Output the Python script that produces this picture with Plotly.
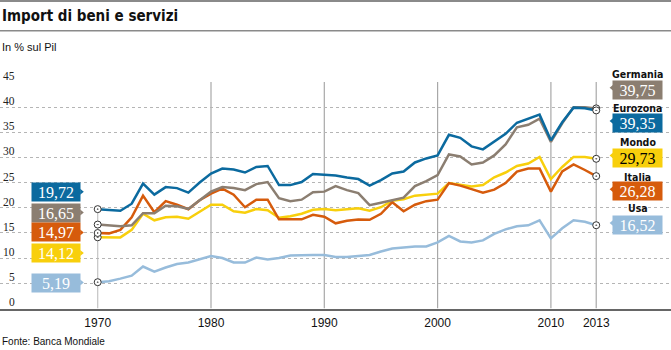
import plotly.graph_objects as go

# ---------------- data ----------------
TICK_POS = [0, 10, 20, 30, 40, 44]
TICK_TEXT = ["1970", "1980", "1990", "2000", "2010", "2013"]
Y_TICKS = [0, 5, 10, 15, 20, 25, 30, 35, 40, 45]

EUROZONA = [19.72, 19.55, 19.4, 20.8, 24.8, 22.6, 24.1, 23.9, 23.0, 25.0,
            26.8, 27.8, 27.6, 27.0, 28.1, 28.3, 24.5, 24.5, 25.1, 26.7,
            26.5, 26.4, 26.0, 25.7, 24.4, 25.5, 26.8, 27.2, 29.0, 29.8,
            30.4, 34.5, 33.9, 32.2, 31.6, 33.1, 34.7, 36.9, 37.7, 38.5,
            33.4, 37.0, 39.9, 39.8, 39.35]
GERMANIA = [16.65, 16.4, 16.3, 16.5, 18.9, 18.9, 20.4, 20.3, 19.75, 21.5,
            23.2, 24.1, 23.9, 23.5, 24.7, 25.1, 21.9, 21.3, 21.6, 23.1,
            23.2, 24.3, 23.5, 22.9, 20.5, 21.0, 21.5, 22.0, 24.3, 25.3,
            26.5, 30.6, 30.2, 28.6, 29.0, 30.4, 32.6, 36.0, 36.5, 37.7,
            33.1, 36.8, 40.0, 40.0, 39.75]
ITALIA = [14.97, 14.9, 15.6, 18.1, 22.4, 19.1, 21.3, 20.6, 19.7, 21.5,
          22.8, 23.8, 22.6, 20.1, 21.6, 21.6, 17.7, 17.7, 17.7, 18.6,
          18.2, 16.9, 17.4, 17.65, 17.6, 18.8, 21.1, 19.3, 20.6, 21.3,
          21.6, 24.9, 24.4, 23.7, 23.0, 23.6, 24.9, 27.2, 27.8, 27.8,
          23.2, 27.2, 28.6, 27.5, 26.28]
MONDO = [14.12, 14.1, 14.1, 15.6, 18.8, 17.5, 18.1, 18.2, 17.8, 19.2,
         20.6, 20.6, 19.3, 19.0, 19.75, 19.5, 18.0, 18.3, 18.8, 19.6,
         19.75, 19.5, 19.75, 19.9, 19.4, 20.1, 21.4, 21.7, 22.4, 22.6,
         22.8, 24.9, 24.5, 24.2, 24.5, 26.05, 27.0, 28.3, 28.8, 30.1,
         25.7, 28.1, 30.1, 30.1, 29.73]
USA = [5.19, 5.4, 5.9, 6.5, 8.3, 7.3, 8.1, 8.8, 9.1, 9.7,
       10.4, 10.0, 9.1, 9.1, 10.1, 9.7, 10.0, 10.5, 10.6, 10.6,
       10.6, 10.2, 10.2, 10.4, 10.6, 11.3, 11.9, 12.1, 12.3, 12.3,
       13.1, 14.4, 13.3, 13.1, 13.5, 14.8, 15.7, 16.3, 16.5, 17.5,
       13.9, 15.9, 17.5, 17.2, 16.52]
POS = list(range(len(EUROZONA)))

NAMES = ["Eurozona", "Germania", "Italia", "Mondo", "Usa"]
SERIES = [EUROZONA, GERMANIA, ITALIA, MONDO, USA]

# ---------------- style ----------------
COLORS = {"Eurozona": "#0b6a9f", "Germania": "#8b7e71", "Italia": "#d65b0c",
          "Mondo": "#f8cf0c", "Usa": "#97bcdb"}
TXT = {"Eurozona": "white", "Germania": "white", "Italia": "white",
       "Mondo": "white", "Usa": "white"}
TXT_R = {"Eurozona": "white", "Germania": "white", "Italia": "white",
         "Mondo": "black", "Usa": "white"}
SANS = "Liberation Sans, Arial, sans-serif"
NARROW = "Liberation Sans Narrow, DejaVu Sans Condensed, Arial Narrow, sans-serif"
SERIF = "Liberation Serif, DejaVu Serif, serif"

W, H = 671, 350
T, B = 82, 41


def px(x):
    return x / W


def py(y):
    return (H - B - y) / (H - T - B)


def fmt(v):
    return f"{v:.2f}".replace(".", ",")


fig = go.Figure()

draw_order = ["Usa", "Mondo", "Italia", "Germania", "Eurozona"]
for name in draw_order:
    vals = SERIES[NAMES.index(name)]
    fig.add_trace(go.Scatter(x=POS, y=vals, mode="lines",
                             line=dict(color=COLORS[name], width=2.5),
                             hoverinfo="skip", showlegend=False))
for name in draw_order:
    vals = SERIES[NAMES.index(name)]
    fig.add_trace(go.Scatter(x=[POS[0], POS[-1]], y=[vals[0], vals[-1]],
                             mode="markers",
                             marker=dict(symbol="circle-dot", size=7, color="white",
                                         line=dict(color="#333", width=1)),
                             hoverinfo="skip", showlegend=False))

shapes = []
# vertical decade lines
for t in TICK_POS[1:]:
    shapes.append(dict(type="line", xref="x", yref="y", x0=t, x1=t, y0=0, y1=Y_TICKS[-1],
                       line=dict(color="#a8a8a8", width=1.2), layer="below"))
shapes.append(dict(type="line", xref="x", yref="y", x0=TICK_POS[0], x1=TICK_POS[0],
                   y0=0, y1=max(s[0] for s in SERIES),
                   line=dict(color="#c4c4c4", width=1.2), layer="below"))
# top rules
shapes.append(dict(type="line", xref="paper", yref="paper", x0=0, x1=1, y0=py(1), y1=py(1),
                   line=dict(color="#8a8a8a", width=2)))
shapes.append(dict(type="line", xref="paper", yref="paper", x0=0, x1=1, y0=py(30.8), y1=py(30.8),
                   line=dict(color="#8a8a8a", width=1.5)))

annotations = []
# y labels
for v in Y_TICKS:
    annotations.append(dict(xref="paper", yref="y", x=px(16.5), y=v, xanchor="right",
                            yanchor="middle", yshift=6, text=str(v), showarrow=False,
                            font=dict(family=SERIF, size=11.5, color="#222")))

# left boxes
LEFT_Y = {"Eurozona": 191.7, "Germania": 212.5, "Italia": 232.5, "Mondo": 253.0, "Usa": 282.5}
for name in NAMES:
    vals = SERIES[NAMES.index(name)]
    cy = LEFT_Y[name]
    annotations.append(dict(xref="paper", yref="paper", x=px(56.3), y=py(cy),
                            xanchor="center", yanchor="middle", text=fmt(vals[0]),
                            showarrow=False, width=48, height=18, borderpad=0,
                            bgcolor=COLORS[name],
                            font=dict(family=SERIF, size=16, color=TXT[name])))
    shapes.append(dict(type="path", xref="paper", yref="paper",
                       path=f"M {px(80.2)} {py(cy-3)} L {px(83.8)} {py(cy)} L {px(80.2)} {py(cy+3)} Z",
                       fillcolor=COLORS[name], line=dict(width=0)))

# right boxes and names
RIGHT = {"Germania": (74.0, 89.8), "Eurozona": (107.7, 123.0), "Mondo": (141.7, 157.5),
         "Italia": (176.7, 191.3), "Usa": (208.3, 225.0)}
for name in NAMES:
    vals = SERIES[NAMES.index(name)]
    ny, by = RIGHT[name]
    annotations.append(dict(xref="paper", yref="paper", x=px(637.5), y=py(ny),
                            xanchor="center", yanchor="middle", text=f"<b>{name}</b>",
                            showarrow=False,
                            font=dict(family=NARROW, size=10.5, color="#111")))
    annotations.append(dict(xref="paper", yref="paper", x=px(637.5), y=py(by),
                            xanchor="center", yanchor="middle", text=fmt(vals[-1]),
                            showarrow=False, width=49, height=18, borderpad=0,
                            bgcolor=COLORS[name],
                            font=dict(family=SERIF, size=16, color=TXT_R[name])))
    shapes.append(dict(type="path", xref="paper", yref="paper",
                       path=f"M {px(613.2)} {py(by-5)} L {px(609.6)} {py(by-2)} L {px(613.2)} {py(by+1)} Z",
                       fillcolor=COLORS[name], line=dict(width=0)))

# title, subtitle, source
annotations.append(dict(xref="paper", yref="paper", x=0, y=py(16), xanchor="left",
                        yanchor="middle", text="<b>Import di beni e servizi</b>", showarrow=False,
                        font=dict(family=NARROW, size=15, color="#111")))
annotations.append(dict(xref="paper", yref="paper", x=0, y=py(46.5), xanchor="left",
                        yanchor="middle", text="In % sul Pil", showarrow=False,
                        font=dict(family=SANS, size=11, color="#111")))
annotations.append(dict(xref="paper", yref="paper", x=0, y=py(341), xanchor="left",
                        yanchor="middle", text="Fonte: Banca Mondiale", showarrow=False,
                        font=dict(family=SANS, size=10, color="#111")))

fig.update_layout(
    width=W, height=H,
    margin=dict(l=0, r=0, t=T, b=B, pad=0),
    paper_bgcolor="white", plot_bgcolor="white",
    shapes=shapes, annotations=annotations,
    xaxis=dict(range=[-8.623, 50.60], tickvals=TICK_POS, ticktext=TICK_TEXT,
               showgrid=False, zeroline=False, showline=True, linecolor="#666",
               linewidth=1.5, ticks="outside", ticklen=2, tickcolor="rgba(0,0,0,0)",
               tickfont=dict(family=SANS, size=12, color="#111")),
    yaxis=dict(range=[-0.14, 45], tickvals=Y_TICKS, showticklabels=False,
               showgrid=True, gridcolor="#b5b5b5", griddash="dot", gridwidth=1,
               zeroline=False, showline=False),
)

fig.write_html("out.html")
